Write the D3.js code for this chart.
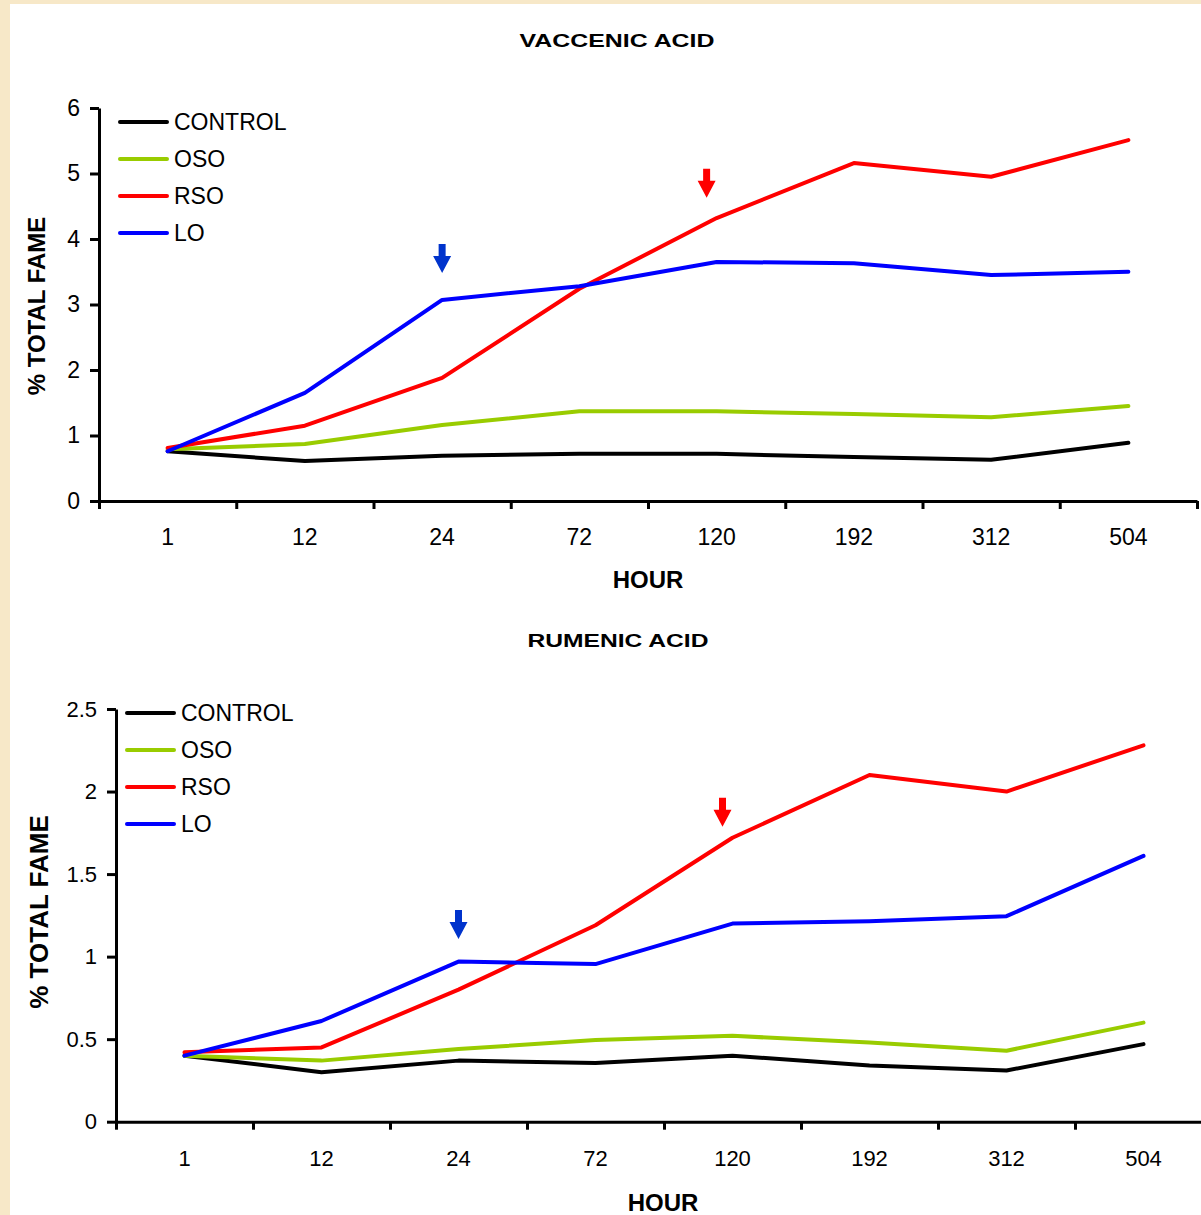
<!DOCTYPE html>
<html>
<head>
<script src="https://d3js.org/d3.v7.min.js"></script>
<style>
body { margin: 0; }
text { font-family: "Liberation Sans", Arial, sans-serif; }
</style>
</head>
<body>
<script>
// categories and series
var hours = ["1", "12", "24", "72", "120", "192", "312", "504"];
var seriesNames = ["CONTROL", "OSO", "RSO", "LO"];

// vaccenic acid, % total FAME
var vaccenicControl = [0.76, 0.61, 0.69, 0.72, 0.72, 0.67, 0.63, 0.89];
var vaccenicOSO     = [0.79, 0.87, 1.16, 1.37, 1.37, 1.33, 1.28, 1.45];
var vaccenicRSO     = [0.81, 1.15, 1.88, 3.24, 4.32, 5.16, 4.95, 5.51];
var vaccenicLO      = [0.76, 1.65, 3.07, 3.28, 3.65, 3.63, 3.45, 3.50];
var vaccenicTicks   = [0, 1, 2, 3, 4, 5, 6];
var vaccenicArrowHours  = ["24", "120"];
var vaccenicArrowValues = [3.48, 4.63];

// rumenic acid, % total FAME
var rumenicControl = [0.40, 0.30, 0.37, 0.355, 0.40, 0.34, 0.31, 0.47];
var rumenicOSO     = [0.40, 0.37, 0.44, 0.495, 0.52, 0.48, 0.43, 0.60];
var rumenicRSO     = [0.42, 0.45, 0.80, 1.19, 1.72, 2.10, 2.00, 2.28];
var rumenicLO      = [0.40, 0.61, 0.97, 0.955, 1.20, 1.215, 1.245, 1.61];
var rumenicTicks   = [0, 0.5, 1, 1.5, 2, 2.5];
var rumenicArrowHours  = ["24", "120"];
var rumenicArrowValues = [1.107, 1.786];

var colors = ["#000000", "#99cc00", "#ff0000", "#0000ff"];
var arrowColors = ["#0033cc", "#ff0000"];
var arrowShift = [0, -10];

var W = 1201, H = 1215;
var svg = d3.select("body").append("svg")
  .attr("width", W).attr("height", H);

// parchment border + white page
svg.append("rect").attr("width", W).attr("height", H).attr("fill", "#f7e8c8");
svg.append("rect").attr("x", 10).attr("y", 4).attr("width", W - 10).attr("height", H - 4).attr("fill", "#ffffff");

function drawChart(c) {
  var g = svg.append("g");
  var x = d3.scaleBand().domain(hours).range([c.left, c.left + 8 * c.band]);
  var xEdge = d3.scaleLinear().domain([0, 8]).range([c.left, c.left + 8 * c.band]);
  var y = d3.scaleLinear().domain([0, c.ymax]).range([c.bottom, c.top]);

  // y axis
  var ya = g.append("g").attr("transform", "translate(" + c.left + ",0)")
    .call(d3.axisLeft(y).tickValues(c.ticks).tickFormat(d3.format("~g"))
      .tickSize(9).tickSizeOuter(0).tickPadding(c.yPad));
  ya.select(".domain").attr("stroke-width", 3);
  ya.selectAll(".tick line").attr("stroke-width", 3);
  ya.selectAll(".tick text").attr("font-size", c.tickFont).attr("font-family", "Liberation Sans, Arial, sans-serif").attr("fill", "#000");

  // x axis: boundary ticks
  var xb = g.append("g").attr("transform", "translate(0," + c.bottom + ")")
    .call(d3.axisBottom(xEdge).tickValues(d3.range(0, 9)).tickFormat("").tickSize(8).tickSizeOuter(0));
  xb.select(".domain").attr("stroke-width", 3);
  xb.selectAll(".tick line").attr("stroke-width", 3);

  // x axis: category labels
  var xl = g.append("g").attr("transform", "translate(0," + c.bottom + ")")
    .call(d3.axisBottom(x).tickSize(0).tickPadding(c.xPad));
  xl.select(".domain").remove();
  xl.selectAll(".tick text").attr("font-size", c.tickFont).attr("font-family", "Liberation Sans, Arial, sans-serif").attr("fill", "#000");

  var cx = function(h) { return x(h) + x.bandwidth() / 2; };
  var line = d3.line().x(function(d, i) { return cx(hours[i]); }).y(function(d) { return y(d); });

  c.series.forEach(function(s, k) {
    g.append("path").datum(s).attr("d", line)
      .attr("fill", "none").attr("stroke", colors[k]).attr("stroke-width", 4)
      .attr("stroke-linejoin", "round").attr("stroke-linecap", "round");
  });

  // arrows
  c.arrowHours.forEach(function(h, k) {
    g.append("path")
      .attr("d", "M-3.5,-29L3.5,-29L3.5,-17L9,-17L0,0L-9,-17L-3.5,-17Z")
      .attr("transform", "translate(" + (cx(h) + arrowShift[k]) + "," + y(c.arrowValues[k]) + ")")
      .attr("fill", arrowColors[k]);
  });

  // legend
  seriesNames.forEach(function(n, k) {
    var ly = c.legY + k * c.legStep;
    g.append("line").attr("x1", c.legX).attr("x2", c.legX + 47).attr("y1", ly).attr("y2", ly)
      .attr("stroke", colors[k]).attr("stroke-width", 4).attr("stroke-linecap", "round");
    g.append("text").attr("x", c.legX + 54).attr("y", ly).attr("dy", "0.36em")
      .attr("font-size", c.legFont).text(n);
  });

  // titles
  g.append("text").attr("x", c.titleX).attr("y", c.titleY).attr("text-anchor", "middle")
    .attr("font-size", 19).attr("font-weight", "bold")
    .attr("textLength", c.titleLen).attr("lengthAdjust", "spacingAndGlyphs").text(c.title);
  g.append("text").attr("x", c.hourX).attr("y", c.hourY).attr("text-anchor", "middle")
    .attr("font-size", 24).attr("font-weight", "bold").text("HOUR");
  g.append("text").attr("transform", "translate(" + c.ylabX + "," + c.ylabY + ") rotate(-90)")
    .attr("text-anchor", "middle").attr("font-size", c.ylabFont).attr("font-weight", "bold").text("% TOTAL FAME");
}

drawChart({
  left: 99, band: 137.25, top: 108, bottom: 501, ymax: 6, ticks: vaccenicTicks,
  series: [vaccenicControl, vaccenicOSO, vaccenicRSO, vaccenicLO],
  arrowHours: vaccenicArrowHours, arrowValues: vaccenicArrowValues,
  tickFont: 23, yPad: 10, xPad: 28,
  legX: 120, legY: 122, legStep: 37, legFont: 23,
  title: "VACCENIC ACID", titleX: 617, titleY: 47, titleLen: 195,
  hourX: 648, hourY: 588,
  ylabX: 45, ylabY: 306, ylabFont: 24
});

drawChart({
  left: 116, band: 137, top: 709, bottom: 1121.7, ymax: 2.5, ticks: rumenicTicks,
  series: [rumenicControl, rumenicOSO, rumenicRSO, rumenicLO],
  arrowHours: rumenicArrowHours, arrowValues: rumenicArrowValues,
  tickFont: 22, yPad: 10, xPad: 29,
  legX: 127, legY: 713, legStep: 37, legFont: 23,
  title: "RUMENIC ACID", titleX: 618, titleY: 647, titleLen: 181,
  hourX: 663, hourY: 1211,
  ylabX: 48, ylabY: 912, ylabFont: 26
});
</script>
</body>
</html>
